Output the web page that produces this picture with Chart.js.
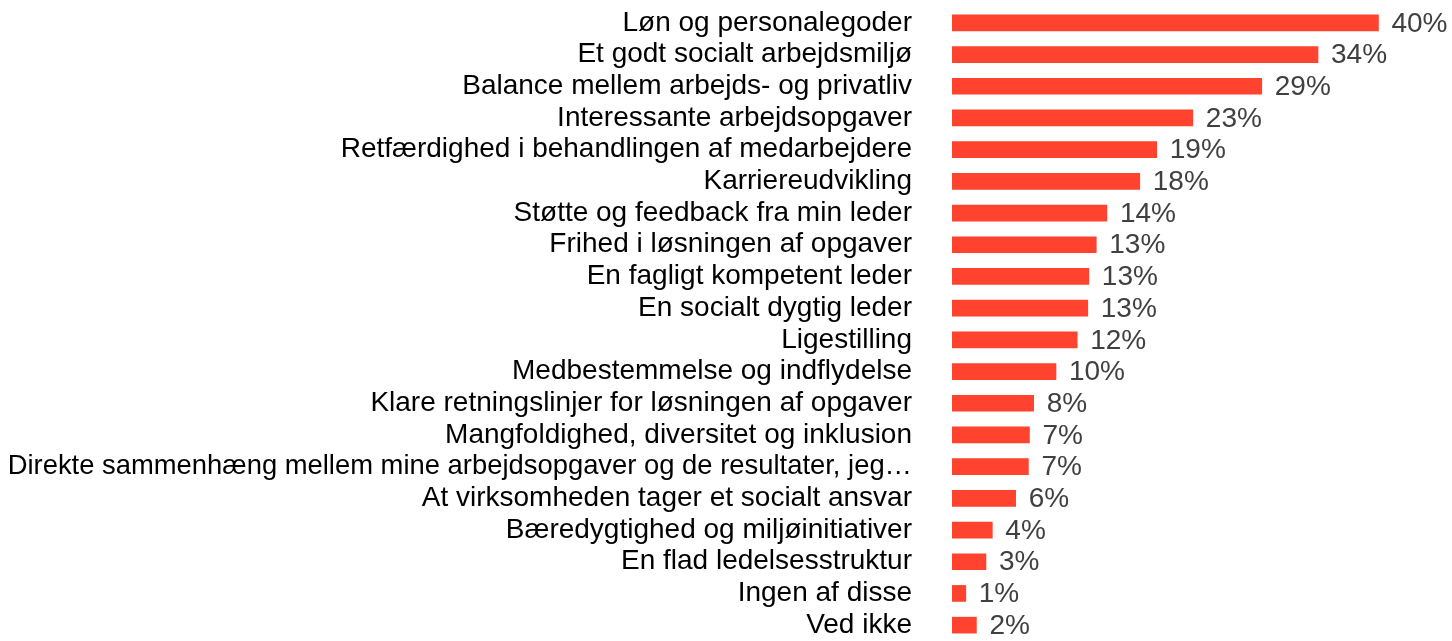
<!DOCTYPE html>
<html>
<head>
<meta charset="utf-8">
<script src="https://cdn.jsdelivr.net/npm/chart.js@4.4.1/dist/chart.umd.min.js"></script>
<style>
  html, body { margin: 0; padding: 0; background: #fff; }
  #wrap { width: 1452px; height: 641px; }
</style>
</head>
<body>
<div id="wrap"><canvas id="chart"></canvas></div>
<script>
// categories top to bottom
const categories = [
  "Løn og personalegoder",
  "Et godt socialt arbejdsmiljø",
  "Balance mellem arbejds- og privatliv",
  "Interessante arbejdsopgaver",
  "Retfærdighed i behandlingen af medarbejdere",
  "Karriereudvikling",
  "Støtte og feedback fra min leder",
  "Frihed i løsningen af opgaver",
  "En fagligt kompetent leder",
  "En socialt dygtig leder",
  "Ligestilling",
  "Medbestemmelse og indflydelse",
  "Klare retningslinjer for løsningen af opgaver",
  "Mangfoldighed, diversitet og inklusion",
  "Direkte sammenhæng mellem mine arbejdsopgaver og de resultater, jeg…",
  "At virksomheden tager et socialt ansvar",
  "Bæredygtighed og miljøinitiativer",
  "En flad ledelsesstruktur",
  "Ingen af disse",
  "Ved ikke"
];

// share in percent
const shares = [40.2, 34.5, 29.2, 22.7, 19.3, 17.7, 14.6, 13.6, 12.9, 12.8,
                11.8, 9.8, 7.7, 7.3, 7.2, 6.0, 3.8, 3.2, 1.3, 2.3];

// value labels as printed
const shareLabels = ["40%", "34%", "29%", "23%", "19%", "18%", "14%", "13%", "13%", "13%",
                     "12%", "10%", "8%", "7%", "7%", "6%", "4%", "3%", "1%", "2%"];

const FONT = "'Liberation Sans', Arial, sans-serif";

const valueLabels = {
  id: "valueLabels",
  afterDatasetsDraw(chart) {
    const ctx = chart.ctx;
    const meta = chart.getDatasetMeta(0);
    ctx.save();
    ctx.font = "28px " + FONT;
    ctx.fillStyle = "#404040";
    ctx.textAlign = "left";
    ctx.textBaseline = "middle";
    meta.data.forEach((bar, i) => {
      ctx.fillText(shareLabels[i], bar.x + 13, bar.y + 1);
    });
    ctx.restore();
  }
};

new Chart(document.getElementById("chart"), {
  type: "bar",
  data: {
    labels: categories,
    datasets: [{
      data: shares,
      backgroundColor: "#FF432E",
      barThickness: 16
    }]
  },
  options: {
    indexAxis: "y",
    responsive: true,
    maintainAspectRatio: false,
    animation: false,
    layout: { padding: { top: 7, bottom: 0, left: 0, right: 12 } },
    plugins: {
      legend: { display: false },
      tooltip: { enabled: false }
    },
    scales: {
      x: {
        min: 0,
        max: 46,
        display: false
      },
      y: {
        grid: { display: false, drawTicks: false },
        border: { display: false },
        afterFit: scale => {
          scale.width = 952;
          scale.paddingTop = 0;
          scale.paddingBottom = 0;
        },
        ticks: {
          color: "#000",
          padding: 40,
          autoSkip: false,
          // the truncated long label is a touch narrower in the original
          font: c => ({ family: FONT, size: c.index === 14 ? 27.4 : 28 })
        }
      }
    }
  },
  plugins: [valueLabels]
});
</script>
</body>
</html>
